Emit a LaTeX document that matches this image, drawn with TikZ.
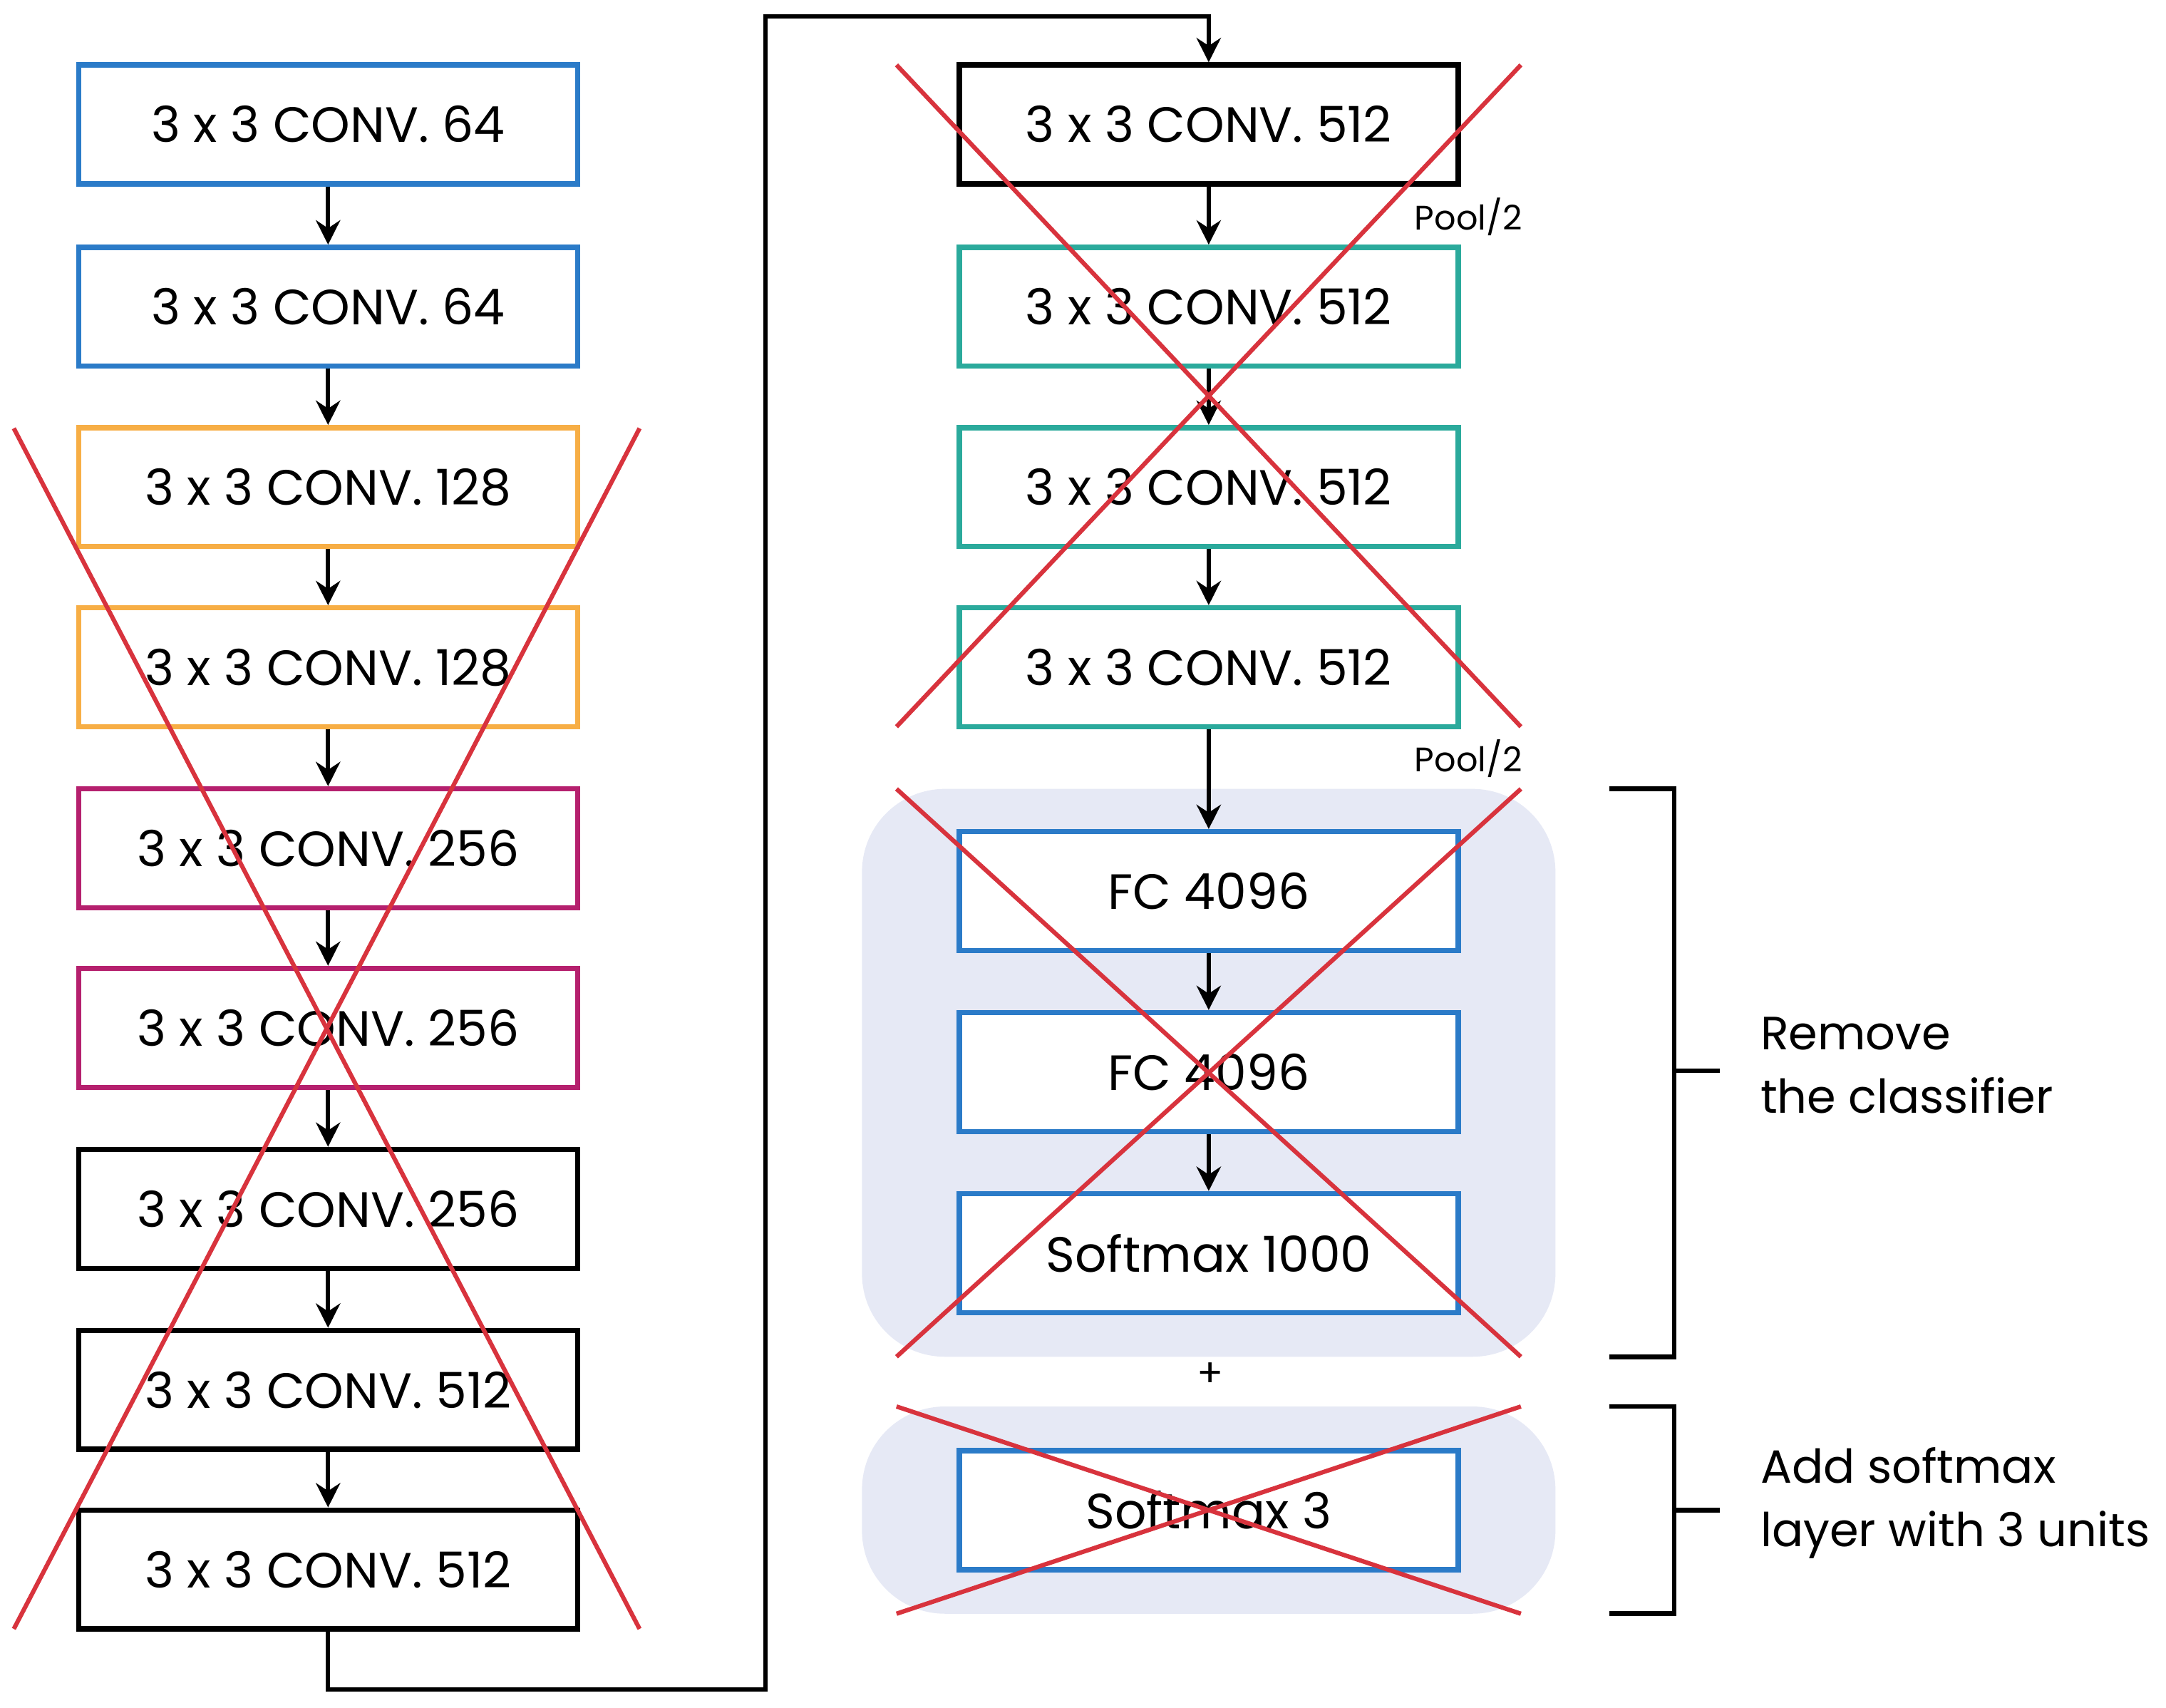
\documentclass[tikz,border=0pt]{standalone}
\usepackage{fontspec}
\setmainfont{Poppins}
\usetikzlibrary{arrows.meta}
\definecolor{cblue}{HTML}{2B7BC8}
\definecolor{corange}{HTML}{F7AE45}
\definecolor{cmag}{HTML}{B5206E}
\definecolor{cteal}{HTML}{2BAA9C}
\definecolor{cbg}{HTML}{E6E9F5}
\definecolor{cred}{HTML}{D8333D}
\begin{document}
\begin{tikzpicture}[x={(0.01cm,0)},y={(0,-0.01cm)},
 box/.style={draw=#1,line width=1.1pt,minimum width=3.61cm,minimum height=0.86cm,inner sep=0pt,font=\fontsize{10.2}{12}\selectfont,fill=white},
 box/.default=black,
 arr/.style={-{Stealth[length=5pt,width=5pt]},line width=0.9pt},
 xx/.style={cred,line width=0.9pt},
 lab/.style={font=\fontsize{9.6}{13}\selectfont,align=left,anchor=west}]
\useasboundingbox (0,0) rectangle (1568,1236);
\fill[cbg,rounded corners=0.6cm] (624,571) rectangle (1126,982);
\fill[cbg,rounded corners=0.6cm] (624,1018) rectangle (1126,1168);
% left column
\node[box=cblue] (l1) at (237.5,90) {3 x 3 CONV. 64};
\node[box=cblue] (l2) at (237.5,222) {3 x 3 CONV. 64};
\node[box=corange] (l3) at (237.5,352.5) {3 x 3 CONV. 128};
\node[box=corange] (l4) at (237.5,483) {3 x 3 CONV. 128};
\node[box=cmag] (l5) at (237.5,614) {3 x 3 CONV. 256};
\node[box=cmag] (l6) at (237.5,744) {3 x 3 CONV. 256};
\node[box] (l7) at (237.5,875) {3 x 3 CONV. 256};
\node[box] (l8) at (237.5,1006) {3 x 3 CONV. 512};
\node[box] (l9) at (237.5,1136) {3 x 3 CONV. 512};
\foreach \a/\b in {l1/l2,l2/l3,l3/l4,l4/l5,l5/l6,l6/l7,l7/l8,l8/l9} \draw[arr] (\a) -- (\b);
% right column
\node[box] (r1) at (875,90) {3 x 3 CONV. 512};
\node[box=cteal] (r2) at (875,222) {3 x 3 CONV. 512};
\node[box=cteal] (r3) at (875,352.5) {3 x 3 CONV. 512};
\node[box=cteal] (r4) at (875,483) {3 x 3 CONV. 512};
\node[box=cblue] (f1) at (875,645) {FC 4096};
\node[box=cblue] (f2) at (875,776) {FC 4096};
\node[box=cblue] (f3) at (875,907) {Softmax 1000};
\node[box=cblue] (s3) at (875,1093) {Softmax 3};
\foreach \a/\b in {r1/r2,r2/r3,r3/r4,r4/f1,f1/f2,f2/f3} \draw[arr] (\a) -- (\b);
\coordinate (c1) at (237.5,1223);
\coordinate (c2) at (554,1223);
\coordinate (c3) at (554,12);
\coordinate (c4) at (875,12);
\draw[arr] (l9.south) -- (c1) -- (c2) -- (c3) -- (c4) -- (r1.north);
\node[font=\fontsize{7}{9}\selectfont] (p1) at (1063,157) {Pool/2};
\node[font=\fontsize{7}{9}\selectfont] (p2) at (1063,549) {Pool/2};
\node[font=\fontsize{8}{10}\selectfont] (plus) at (876,995) {+};
% crosses
\draw[xx] (10,310) -- (463,1179) (463,310) -- (10,1179);
\draw[xx] (649,47) -- (1101,526) (1101,47) -- (649,526);
\draw[xx] (649,571) -- (1101,982) (1101,571) -- (649,982);
\draw[xx] (649,1018) -- (1101,1168) (1101,1018) -- (649,1168);
% brackets
\draw[line width=1pt] (1165,571) -- (1212,571) -- (1212,982) -- (1165,982) (1212,775) -- (1245,775);
\draw[line width=1pt] (1165,1018) -- (1212,1018) -- (1212,1168) -- (1165,1168) (1212,1093) -- (1245,1093);
\node[lab] (t1) at (1262,771) {Remove\\the classifier};
\node[lab] (t2) at (1262,1088) {Add softmax\\layer with 3 units};
\end{tikzpicture}
\end{document}
